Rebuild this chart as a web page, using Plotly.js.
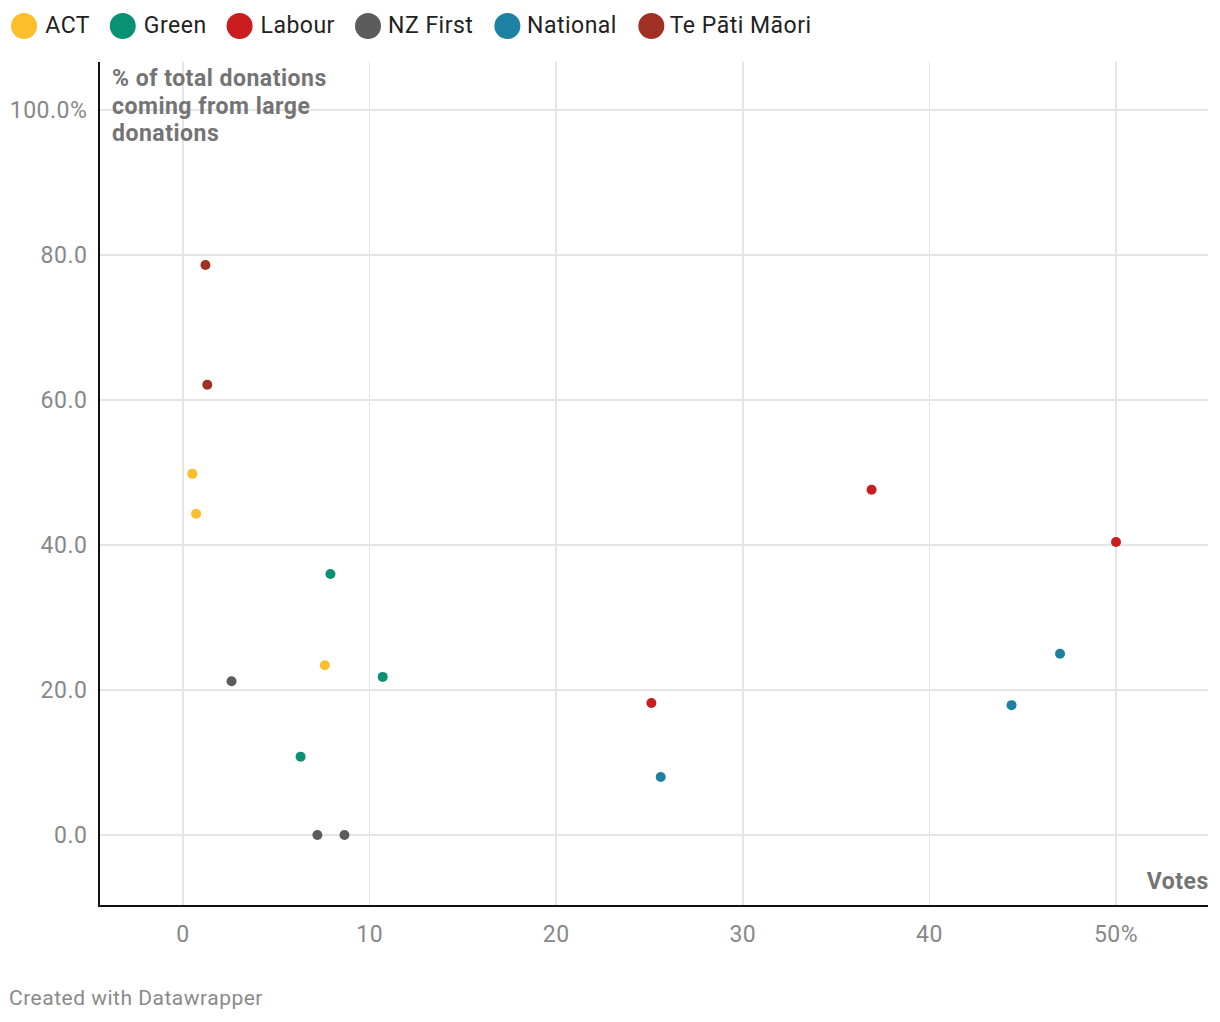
<!DOCTYPE html>
<html>
<head>
<meta charset="utf-8">
<script src="https://cdn.plot.ly/plotly-3.0.1.min.js"></script>
<style>
  html, body { margin: 0; padding: 0; background: #fff; }
  #myDiv { width: 1220px; height: 1022px; }
  #myDiv svg text { letter-spacing: 0.5px; }
</style>
</head>
<body>
<div id="myDiv"></div>
<script>
var parties = ["ACT", "Green", "Labour", "NZ First", "National", "Te Pāti Māori"];
var colors = ["#fcbf2b", "#0a9174", "#c91d1f", "#5c5c5c", "#1d81a2", "#a13024"];

// votes (%) and share of donations from large donations (%)
var actVotes = [0.5, 0.7, 7.6];
var actLarge = [49.8, 44.3, 23.4];
var greenVotes = [7.9, 10.7, 6.3];
var greenLarge = [36.0, 21.8, 10.8];
var labourVotes = [36.9, 50.0, 25.1];
var labourLarge = [47.6, 40.4, 18.2];
var nzfVotes = [2.6, 7.2, 8.65];
var nzfLarge = [21.2, 0, 0];
var nationalVotes = [47.0, 44.4, 25.6];
var nationalLarge = [25.0, 17.9, 8.0];
var tpmVotes = [1.2, 1.3];
var tpmLarge = [78.6, 62.1];

var xTicks = [0, 10, 20, 30, 40, 50];
var xTickText = ["0", "10", "20", "30", "40", "50%"];
var yTicks = [0, 20, 40, 60, 80, 100];
var yTickText = ["0.0", "20.0", "40.0", "60.0", "80.0", "100.0%"];
var yTitleLines = ["% of total donations", "coming from large", "donations"];

var xs = [actVotes, greenVotes, labourVotes, nzfVotes, nationalVotes, tpmVotes];
var ys = [actLarge, greenLarge, labourLarge, nzfLarge, nationalLarge, tpmLarge];

var font = "Roboto, sans-serif";
var fs = 23;

var data = parties.map(function (p, i) {
  return {
    type: "scatter",
    mode: "markers",
    name: p,
    x: xs[i],
    y: ys[i],
    marker: { color: colors[i], size: 10 },
    showlegend: false,
    hoverinfo: "skip",
  };
});

// plot box in pixels
var L = 100, R = 12, T = 62, B = 117;
var W = 1220 - L - R, H = 1022 - T - B;

// custom legend: circles + labels laid out with measured text widths
var shapes = [];
var annotations = [];
var ctx = document.createElement("canvas").getContext("2d");
ctx.font = fs + "px Roboto";
if ("letterSpacing" in ctx) ctx.letterSpacing = "0.5px";
var cx = 24;
parties.forEach(function (p, i) {
  var px = (cx - L) / W;
  var py = (1022 - B - 26) / H;
  shapes.push({
    type: "circle",
    xref: "paper", yref: "paper",
    xsizemode: "pixel", ysizemode: "pixel",
    xanchor: px, yanchor: py,
    x0: -13, x1: 13, y0: -13, y1: 13,
    fillcolor: colors[i],
    line: { width: 0 },
  });
  annotations.push({
    xref: "paper", yref: "paper",
    x: (cx + 20 - L) / W, y: py,
    xanchor: "left", yanchor: "middle",
    text: p,
    showarrow: false,
    font: { family: font, size: fs, color: "#222" },
  });
  cx = cx + 20 + ctx.measureText(p).width + 34;
});

yTitleLines.forEach(function (line, k) {
  annotations.push({
    xref: "paper", yref: "paper",
    x: (110 - L) / W, y: (1022 - B - 78 - 28 * k) / H,
    xanchor: "left", yanchor: "middle", align: "left",
    text: "<b>" + line + "</b>",
    showarrow: false,
    font: { family: font, size: fs, color: "#747474" },
  });
});
annotations.push({
  xref: "paper", yref: "paper",
  x: 1.0, y: 24 / H, xshift: 2,
  xanchor: "right", yanchor: "middle",
  text: "<b>Votes</b>",
  showarrow: false,
  font: { family: font, size: fs, color: "#747474" },
});
annotations.push({
  xref: "paper", yref: "paper",
  x: (13 - L) / W, y: -93 / H,
  xanchor: "left", yanchor: "middle",
  text: "Created with Datawrapper",
  showarrow: false,
  font: { family: font, size: 21, color: "#8a8a8a" },
});

var layout = {
  width: 1220,
  height: 1022,
  margin: { l: L, r: R, t: T, b: B, pad: 0 },
  paper_bgcolor: "#fff",
  plot_bgcolor: "#fff",
  font: { family: font, size: fs, color: "#888" },
  showlegend: false,
  hovermode: false,
  xaxis: {
    range: [-4.45, 54.93],
    tickvals: xTicks,
    ticktext: xTickText,
    showgrid: true,
    gridcolor: "#e5e5e5",
    gridwidth: 1.5,
    zeroline: false,
    showline: true,
    linecolor: "#111",
    linewidth: 2,
    ticks: "",
    ticklabelstandoff: 7,
    tickfont: { family: font, size: fs, color: "#888" },
  },
  yaxis: {
    range: [-9.66, 106.6],
    tickvals: yTicks,
    ticktext: yTickText,
    showgrid: true,
    gridcolor: "#e5e5e5",
    gridwidth: 1.5,
    zeroline: false,
    showline: true,
    linecolor: "#111",
    linewidth: 2,
    ticks: "",
    ticklabelstandoff: 6,
    tickfont: { family: font, size: fs, color: "#888" },
  },
  shapes: shapes,
  annotations: annotations,
};

Plotly.newPlot("myDiv", data, layout, { displayModeBar: false, staticPlot: true });
</script>
</body>
</html>
